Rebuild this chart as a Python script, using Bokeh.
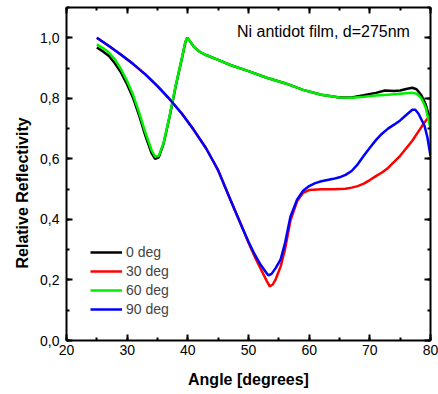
from bokeh.plotting import figure
from bokeh.models import (LinearAxis, SingleIntervalTicker, CustomJSTickFormatter,
                          Range1d, Legend, LegendItem, Label, Title)
from bokeh.embed import file_html
from bokeh.resources import INLINE

# ---- data ----
angle_0 = [25, 26, 27, 28, 29, 30, 31, 32, 33, 34, 34.6, 35.2, 36, 37, 38, 39, 39.6, 39.9,
           40.3, 41, 42, 43, 45, 47, 50, 53, 56, 59, 62, 65, 67, 69, 71, 72.5, 74, 75, 76,
           77, 77.7, 78.5, 79.2, 80]
refl_0 = [0.968, 0.955, 0.94, 0.915, 0.885, 0.846, 0.80, 0.742, 0.677, 0.62, 0.600, 0.605,
          0.65, 0.74, 0.84, 0.93, 0.985, 1.0, 0.99, 0.97, 0.953, 0.943, 0.927, 0.91, 0.89,
          0.868, 0.85, 0.828, 0.812, 0.803, 0.803, 0.81, 0.818, 0.826, 0.824, 0.826, 0.831,
          0.835, 0.83, 0.81, 0.78, 0.725]

angle_60 = [25, 26, 27, 28, 29, 30, 31, 32, 33, 34, 34.6, 35.2, 36, 37, 38, 39, 39.6, 39.9,
            40.3, 41, 42, 43, 45, 47, 50, 53, 56, 59, 62, 65, 67, 69, 71, 73, 75, 77, 77.8,
            78.5, 79.2, 80]
refl_60 = [0.978, 0.966, 0.951, 0.928, 0.896, 0.857, 0.81, 0.752, 0.687, 0.63, 0.607, 0.61,
           0.652, 0.742, 0.842, 0.932, 0.987, 1.0, 0.99, 0.97, 0.953, 0.943, 0.927, 0.91,
           0.89, 0.868, 0.85, 0.828, 0.812, 0.803, 0.802, 0.805, 0.809, 0.812, 0.815,
           0.818, 0.815, 0.80, 0.77, 0.70]

angle_90 = [25, 27, 29, 31, 33, 35, 37, 39, 41, 43, 44.3, 45, 47, 49, 50, 51, 52, 53, 53.3,
            53.8, 54.5, 55.3, 56, 56.9, 58, 59, 60, 61, 62, 63, 64, 65, 66, 67, 68, 69, 70,
            71, 72, 73, 74, 75, 76, 77, 77.5, 78, 79, 79.5, 80]
refl_90 = [1.0, 0.973, 0.944, 0.913, 0.879, 0.84, 0.797, 0.75, 0.695, 0.635, 0.588, 0.562,
           0.466, 0.372, 0.326, 0.285, 0.25, 0.222, 0.215, 0.22, 0.24, 0.268, 0.32, 0.408,
           0.465, 0.495, 0.51, 0.52, 0.526, 0.53, 0.534, 0.539, 0.547, 0.56, 0.582, 0.61,
           0.637, 0.662, 0.683, 0.70, 0.713, 0.727, 0.745, 0.762, 0.762, 0.75, 0.71, 0.67, 0.61]

angle_30 = [25, 27, 29, 31, 33, 35, 37, 39, 41, 43, 44.3, 45, 47, 49, 50, 51, 52, 53, 53.5,
            54, 54.5, 55.3, 56, 56.9, 58, 59, 60, 62, 64, 66, 67, 68, 69, 70, 71, 72, 73,
            74, 75, 76, 77, 78, 79, 80]
refl_30 = [1.0, 0.973, 0.944, 0.913, 0.879, 0.84, 0.797, 0.75, 0.695, 0.635, 0.588, 0.562,
           0.466, 0.372, 0.323, 0.278, 0.237, 0.197, 0.179, 0.185, 0.203, 0.245, 0.30, 0.395,
           0.46, 0.488, 0.497, 0.50, 0.50, 0.501, 0.505, 0.51, 0.518, 0.53, 0.543, 0.555,
           0.57, 0.59, 0.61, 0.635, 0.66, 0.69, 0.72, 0.745]

series_labels = ["0 deg", "30 deg", "60 deg", "90 deg"]
series_colors = ["#000000", "#ff0000", "#00ee00", "#0000ff"]
annotation = "Ni antidot film, d=275nm"
x_title = "Angle [degrees]"
y_title = "Relative Reflectivity"

FONT = "Liberation Sans"

p = figure(width=438, height=394, output_backend="svg", toolbar_location=None,
           x_range=Range1d(20, 80), y_range=Range1d(0, 1.1),
           min_border_left=66, min_border_right=8, min_border_top=7, min_border_bottom=54,
           x_axis_label=x_title)
p.outline_line_color = None
p.xgrid.visible = False
p.ygrid.visible = False
p.background_fill_color = "white"
p.border_fill_color = "white"

r0 = p.line(angle_0, refl_0, line_color=series_colors[0], line_width=2.5)
r30 = p.line(angle_30, refl_30, line_color=series_colors[1], line_width=2.5)
r60 = p.line(angle_60, refl_60, line_color=series_colors[2], line_width=2.5)
r90 = p.line(angle_90, refl_90, line_color=series_colors[3], line_width=2.5)

xt = SingleIntervalTicker(interval=10, num_minor_ticks=2)
yt = SingleIntervalTicker(interval=0.2, num_minor_ticks=2)
p.add_layout(LinearAxis(ticker=xt), "above")
p.add_layout(LinearAxis(ticker=yt), "right")

for ax in p.xaxis:
    ax.ticker = xt
for ax in p.yaxis:
    ax.ticker = yt

for ax in list(p.xaxis) + list(p.yaxis):
    ax.axis_line_width = 2
    ax.axis_line_color = "black"
    ax.major_tick_in = 6
    ax.major_tick_out = 0
    ax.minor_tick_in = 3
    ax.minor_tick_out = 0
    ax.major_tick_line_width = 2
    ax.minor_tick_line_width = 2
    ax.major_tick_line_color = "black"
    ax.minor_tick_line_color = "black"
    ax.major_label_text_font = FONT
    ax.major_label_text_font_size = "14px"
    ax.major_label_text_color = "black"
    ax.axis_label_text_font = FONT
    ax.axis_label_text_font_size = "16px"
    ax.axis_label_text_font_style = "bold"
    ax.axis_label_text_color = "black"

# mirror axes: ticks only, no labels drawn
for ax in (p.above[0], p.right[0]):
    ax.major_label_text_color = None
    ax.major_label_text_font_size = "1px"
    ax.major_label_standoff = 0

bx = p.below[0]
bx.major_label_standoff = 4
bx.axis_label_standoff = 13

ly = p.left[0]
ly.major_label_standoff = 7
ly.formatter = CustomJSTickFormatter(code="return tick.toFixed(1).replace('.', ',');")

# y-axis title, set a little below the frame centre as in the reference
p.add_layout(Title(text=y_title, align="left", offset=72, vertical_align="middle",
                   standoff=12, text_font=FONT, text_font_size="16px",
                   text_font_style="bold", text_color="black"), "left")

legend = Legend(items=[LegendItem(label=series_labels[0], renderers=[r0]),
                       LegendItem(label=series_labels[1], renderers=[r30]),
                       LegendItem(label=series_labels[2], renderers=[r60]),
                       LegendItem(label=series_labels[3], renderers=[r90])],
                location=(24, 23), padding=0, margin=0, spacing=3,
                glyph_width=32, glyph_height=16, label_height=16, label_standoff=4,
                label_text_font=FONT, label_text_font_size="14px",
                border_line_color=None, background_fill_alpha=0)
p.add_layout(legend, "center")

p.add_layout(Label(x=48.1, y=1.022, text=annotation, text_font=FONT,
                   text_font_size="16px", text_color="black",
                   text_baseline="alphabetic", text_align="left"))

open("out.html", "w").write(file_html(p, INLINE))
